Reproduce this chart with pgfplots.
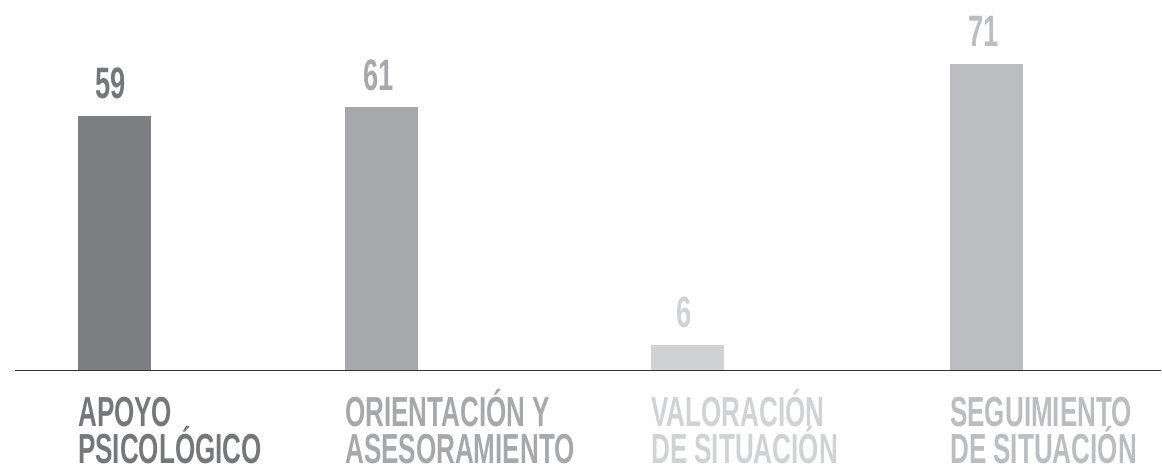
\documentclass[border=0pt]{standalone}
\usepackage{pgfplots}
\pgfplotsset{compat=1.18}
\usepackage{fontspec}
\setmainfont{Liberation Sans}
\newfontfamily\cond[FakeStretch=0.62]{Liberation Sans Bold}
\definecolor{c1}{HTML}{7E7F83}
\definecolor{t1}{HTML}{76777B}
\definecolor{c2}{HTML}{A7A8AC}
\definecolor{c3}{HTML}{D1D2D4}
\definecolor{c4}{HTML}{BCBDC0}
\definecolor{axc}{HTML}{333333}
\newcommand{\catlabel}[4]{%
  \node[anchor=base west, inner sep=0pt, text=#2, font=\cond\fontsize{42}{42}\selectfont] at (axis cs:#1,0) [yshift=-56.3pt] {#3};
  \node[anchor=base west, inner sep=0pt, text=#2, font=\cond\fontsize{42}{42}\selectfont] at (axis cs:#1,0) [yshift=-93.3pt] {#4};
}
\begin{document}
\begin{tikzpicture}
\begin{axis}[
  anchor=south west, at={(0,0)},
  x=1pt, y=4.32pt,
  xmin=0, xmax=1162, ymin=-22.99, ymax=85.81,
  axis lines=none, clip=false,
  ybar, bar width=73pt,
  every axis plot/.append style={bar shift=0pt, draw=none},
  /pgf/number format/assume math mode=true,
  nodes near coords,
  nodes near coords style={font=\cond\fontsize{44}{44}\selectfont, anchor=base, yshift=17pt, xshift=-3pt, inner sep=0pt},
]
\addplot[fill=c1, every node near coord/.append style={text=t1}] coordinates {(114,59)};
\addplot[fill=c2, every node near coord/.append style={text=c2}] coordinates {(381.4,61)};
\addplot[fill=c3, every node near coord/.append style={text=c3}] coordinates {(687.5,6)};
\addplot[fill=c4, every node near coord/.append style={text=c4}] coordinates {(986.4,71)};
\draw[axc, line width=1.5pt] (axis cs:15,0) -- (axis cs:1161,0);
\catlabel{78}{t1}{APOYO}{PSICOLÓGICO}
\catlabel{345}{c2}{ORIENTACIÓN Y}{ASESORAMIENTO}
\catlabel{651}{c3}{VALORACIÓN}{DE SITUACIÓN}
\catlabel{950}{c4}{SEGUIMIENTO}{DE SITUACIÓN}
\end{axis}
\pgfresetboundingbox
\path[use as bounding box] (0,0) rectangle (1162pt,470pt);
\end{tikzpicture}
\end{document}
